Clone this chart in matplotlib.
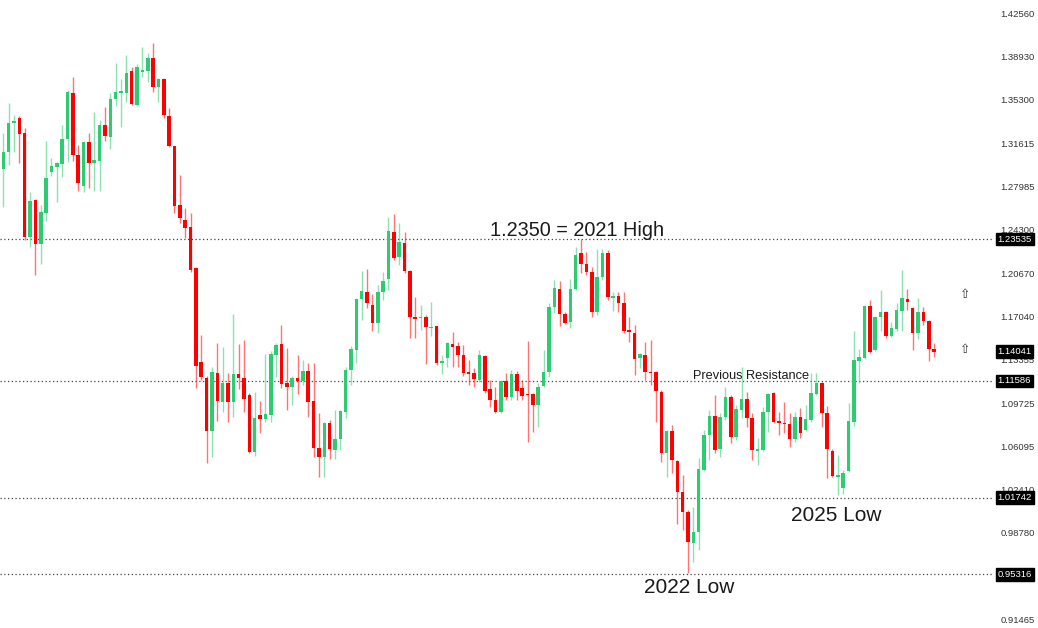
# Monthly EUR/USD candles with key levels

import numpy as np
import pandas as pd
import matplotlib
matplotlib.use("Agg")
import matplotlib.pyplot as plt
from matplotlib.transforms import blended_transform_factory

months = pd.date_range("2012-01-01", periods=175, freq="MS")

open_ = [
    1.2940, 1.3088, 1.3332, 1.3372, 1.3246, 1.2370, 1.2682, 1.2311, 1.2572, 1.2917,
    1.2959, 1.2985, 1.3195, 1.3582, 1.3060, 1.2799, 1.3170, 1.2993, 1.3010, 1.3313,
    1.3212, 1.3532, 1.3582, 1.3582, 1.3768, 1.3481, 1.3759, 1.3768, 1.3877, 1.3633,
    1.3700, 1.3389, 1.3136, 1.2639, 1.2513, 1.2454, 1.2109, 1.1318, 1.1183, 1.0737,
    1.1225, 1.0981, 1.1141, 1.0981, 1.1216, 1.1183, 1.1040, 1.0560, 1.0871, 1.0838,
    1.0871, 1.1376, 1.1469, 1.1141, 1.1107, 1.1183, 1.1158, 1.1242, 1.0989, 1.0593,
    1.0518, 1.0804, 1.0577, 1.0669, 1.0896, 1.1250, 1.1419, 1.1848, 1.1907, 1.1797,
    1.1646, 1.1907, 1.2016, 1.2412, 1.2202, 1.2319, 1.2084, 1.1696, 1.1688, 1.1696,
    1.1604, 1.1621, 1.1309, 1.1351, 1.1469, 1.1452, 1.1376, 1.1233, 1.1225, 1.1166,
    1.1368, 1.1090, 1.0998, 1.0896, 1.1158, 1.1023, 1.1216, 1.1099, 1.1048, 1.1048,
    1.0955, 1.1115, 1.1233, 1.1781, 1.1932, 1.1722, 1.1654, 1.1932, 1.2235, 1.2143,
    1.2075, 1.1738, 1.2033, 1.2235, 1.1856, 1.1873, 1.1814, 1.1587, 1.1562, 1.1351,
    1.1376, 1.1233, 1.1233, 1.1065, 1.0551, 1.0737, 1.0484, 1.0223, 1.0055, 0.9793,
    0.9886, 1.0408, 1.0703, 1.0863, 1.0585, 1.0854, 1.1023, 1.0686, 1.0913, 1.1006,
    1.0846, 1.0568, 1.0577, 1.0896, 1.1056, 1.0821, 1.0804, 1.0795, 1.0669, 1.0854,
    1.0745, 1.0829, 1.1048, 1.1141, 1.0888, 1.0568, 1.0349, 1.0256, 1.0400, 1.0812,
    1.1326, 1.1351, 1.1789, 1.1419, 1.1696, 1.1738, 1.1536, 1.1595, 1.1747, 1.1848,
    1.1772, 1.1562, 1.1738, 1.1663, 1.1427,
]
high = [
    1.3246, 1.3498, 1.3397, 1.3389, 1.3288, 1.2749, 1.2690, 1.2639, 1.3178, 1.3035,
    1.3002, 1.3313, 1.3608, 1.3717, 1.3145, 1.3180, 1.3246, 1.3422, 1.3355, 1.3465,
    1.3582, 1.3835, 1.3700, 1.3902, 1.3801, 1.3827, 1.3970, 1.3919, 1.4003, 1.3709,
    1.3709, 1.3456, 1.3140, 1.2892, 1.2614, 1.2572, 1.2115, 1.1545, 1.1200, 1.1275,
    1.1477, 1.1444, 1.1225, 1.1722, 1.1469, 1.1503, 1.1056, 1.1065, 1.0989, 1.1385,
    1.1410, 1.1477, 1.1629, 1.1435, 1.1200, 1.1376, 1.1334, 1.1309, 1.1309, 1.0888,
    1.0810, 1.0829, 1.0913, 1.0913, 1.1275, 1.1452, 1.1855, 1.2084, 1.2101, 1.1890,
    1.1966, 1.2075, 1.2538, 1.2564, 1.2488, 1.2412, 1.2092, 1.1865, 1.1797, 1.1713,
    1.1823, 1.1625, 1.1376, 1.1486, 1.1570, 1.1486, 1.1461, 1.1334, 1.1267, 1.1419,
    1.1376, 1.1166, 1.1107, 1.1166, 1.1225, 1.1250, 1.1242, 1.1166, 1.1494, 1.1056,
    1.1141, 1.1419, 1.1814, 1.2008, 1.2000, 1.1740, 1.2016, 1.2286, 1.2353, 1.2244,
    1.2117, 1.2269, 1.2269, 1.2261, 1.1907, 1.1907, 1.1907, 1.1696, 1.1629, 1.1393,
    1.1486, 1.1503, 1.1240, 1.1082, 1.0745, 1.0787, 1.0492, 1.0366, 1.0071, 1.0097,
    1.0509, 1.0745, 1.0913, 1.1040, 1.0888, 1.1107, 1.1040, 1.0955, 1.1275, 1.1065,
    1.0888, 1.0678, 1.0939, 1.1056, 1.1065, 1.0896, 1.0981, 1.0888, 1.0896, 1.0930,
    1.0955, 1.1225, 1.1225, 1.1149, 1.0947, 1.0585, 1.0534, 1.0408, 1.0972, 1.1578,
    1.1427, 1.1797, 1.1840, 1.1705, 1.1924, 1.1745, 1.1654, 1.1814, 1.2092, 1.1932,
    1.1781, 1.1856, 1.1781, 1.1671, 1.1477,
]
low = [
    1.2623, 1.2976, 1.3088, 1.2993, 1.2345, 1.2286, 1.2050, 1.2143, 1.2505, 1.2884,
    1.2665, 1.2875, 1.3002, 1.3010, 1.2757, 1.2749, 1.2783, 1.2757, 1.2757, 1.3178,
    1.3111, 1.3473, 1.3296, 1.3507, 1.3481, 1.3475, 1.3717, 1.3675, 1.3591, 1.3507,
    1.3372, 1.3128, 1.2572, 1.2488, 1.2362, 1.2075, 1.1099, 1.1166, 1.0467, 1.0518,
    1.0821, 1.0896, 1.0812, 1.0854, 1.1090, 1.0896, 1.0551, 1.0526, 1.0720, 1.0812,
    1.0812, 1.1191, 1.1099, 1.0913, 1.0955, 1.1048, 1.1124, 1.0854, 1.0518, 1.0349,
    1.0349, 1.0501, 1.0501, 1.0577, 1.0846, 1.1124, 1.1309, 1.1671, 1.1772, 1.1578,
    1.1562, 1.1840, 1.1924, 1.2176, 1.2134, 1.2067, 1.1520, 1.1520, 1.1587, 1.1301,
    1.1536, 1.1292, 1.1216, 1.1275, 1.1275, 1.1275, 1.1200, 1.1124, 1.1107, 1.1149,
    1.1056, 1.0939, 1.0888, 1.0888, 1.0998, 1.0998, 1.0998, 1.0998, 1.0644, 1.0728,
    1.0770, 1.1107, 1.1191, 1.1730, 1.1621, 1.1640, 1.1604, 1.1924, 1.2067, 1.2050,
    1.1696, 1.1713, 1.2008, 1.1840, 1.1747, 1.1738, 1.1562, 1.1486, 1.1208, 1.1267,
    1.1166, 1.1124, 1.0812, 1.0475, 1.0349, 1.0383, 0.9953, 0.9903, 0.9541, 0.9633,
    0.9734, 1.0400, 1.0492, 1.0551, 1.0518, 1.0829, 1.0635, 1.0661, 1.0846, 1.0770,
    1.0492, 1.0450, 1.0568, 1.0728, 1.0804, 1.0703, 1.0720, 1.0602, 1.0644, 1.0678,
    1.0737, 1.0812, 1.1040, 1.0770, 1.0341, 1.0349, 1.0198, 1.0206, 1.0391, 1.0779,
    1.1141, 1.1343, 1.1393, 1.1410, 1.1578, 1.1520, 1.1528, 1.1578, 1.1578, 1.1755,
    1.1419, 1.1511, 1.1629, 1.1326, 1.1360,
]
close = [
    1.3088, 1.3332, 1.3349, 1.3237, 1.2370, 1.2673, 1.2311, 1.2580, 1.2867, 1.2968,
    1.2993, 1.3195, 1.3591, 1.3060, 1.2825, 1.3170, 1.2993, 1.3018, 1.3313, 1.3220,
    1.3532, 1.3591, 1.3599, 1.3751, 1.3490, 1.3801, 1.3776, 1.3877, 1.3633, 1.3700,
    1.3397, 1.3136, 1.2631, 1.2530, 1.2446, 1.2092, 1.1284, 1.1191, 1.0737, 1.1233,
    1.0989, 1.1141, 1.0981, 1.1216, 1.1183, 1.1006, 1.0560, 1.0846, 1.0838, 1.0880,
    1.1385, 1.1461, 1.1132, 1.1107, 1.1183, 1.1158, 1.1242, 1.0981, 1.0593, 1.0518,
    1.0804, 1.0585, 1.0669, 1.0905, 1.1250, 1.1427, 1.1848, 1.1915, 1.1814, 1.1646,
    1.1907, 1.2000, 1.2421, 1.2193, 1.2328, 1.2084, 1.1696, 1.1680, 1.1696, 1.1612,
    1.1612, 1.1309, 1.1326, 1.1477, 1.1444, 1.1376, 1.1225, 1.1216, 1.1174, 1.1376,
    1.1073, 1.0998, 1.0896, 1.1158, 1.1023, 1.1216, 1.1073, 1.1031, 1.1040, 1.0955,
    1.1107, 1.1233, 1.1781, 1.1941, 1.1722, 1.1646, 1.1932, 1.2218, 1.2143, 1.2075,
    1.1738, 1.2033, 1.2235, 1.1865, 1.1873, 1.1814, 1.1578, 1.1570, 1.1343, 1.1385,
    1.1233, 1.1225, 1.1073, 1.0551, 1.0737, 1.0492, 1.0223, 1.0055, 0.9802, 0.9886,
    1.0417, 1.0703, 1.0863, 1.0577, 1.0854, 1.1023, 1.0686, 1.0922, 1.1006, 1.0846,
    1.0577, 1.0585, 1.0896, 1.1048, 1.0812, 1.0804, 1.0795, 1.0669, 1.0854, 1.0720,
    1.0838, 1.1056, 1.1141, 1.0888, 1.0585, 1.0358, 1.0366, 1.0383, 1.0821, 1.1334,
    1.1360, 1.1789, 1.1402, 1.1696, 1.1738, 1.1536, 1.1604, 1.1755, 1.1856, 1.1823,
    1.1562, 1.1738, 1.1663, 1.1427, 1.14041,
]

tick_values = [1.42560, 1.38930, 1.35300, 1.31615, 1.27985, 1.24300, 1.20670,
               1.17040, 1.13355, 1.09725, 1.06095, 1.02410, 0.98780, 0.91465]
levels = [1.23535, 1.11586, 1.01742, 0.95316]
last_price = 1.14041

GREEN = "#2ecc71"
RED = "#ff0000"
FONT = "Liberation Sans"

df = pd.DataFrame({"open": open_, "high": high, "low": low, "close": close}, index=months)
x = np.arange(len(df))
up = df["close"].values >= df["open"].values
colors = np.where(up, GREEN, RED)

fig = plt.figure(figsize=(10.38, 6.28), dpi=100)
ax = fig.add_axes([0, 0, 994 / 1038, 1])

# wicks
ax.vlines(x, df["low"], df["high"], colors=colors, linewidth=1.0, alpha=0.55, zorder=2)
# bodies
body_bottom = np.minimum(df["open"], df["close"])
body_height = np.maximum(np.abs(df["close"] - df["open"]), 0.0012)
ax.bar(x, body_height, bottom=body_bottom, width=0.66, color=colors, linewidth=0, zorder=3)

for lv in levels:
    ax.axhline(lv, color="#444444", linestyle=(0, (1, 2)), linewidth=0.9, zorder=1)

ax.set_xlim(-0.62, 185.2)
ax.set_ylim(0.9078, 1.4366)
for s in ax.spines.values():
    s.set_visible(False)
ax.set_xticks([])
ax.yaxis.tick_right()
ax.set_yticks(tick_values)
ax.set_yticklabels([f"{v:.5f}" for v in tick_values], fontsize=6.8, family=FONT, color="#333333")
ax.tick_params(axis="y", length=0, pad=4.5)

trans = blended_transform_factory(ax.transAxes, ax.transData)
for lv in levels + [last_price]:
    ax.text(1.0035, lv, f"{lv:.5f}", transform=trans, ha="left", va="center",
            fontsize=6.8, family=FONT, color="white", zorder=6, clip_on=False,
            bbox=dict(boxstyle="square,pad=0.2", fc="black", ec="black"))

# annotations
ax.text(90.9, 1.2378, "1.2350 = 2021 High", fontsize=14.3, family=FONT, color="#1a1a1a",
        ha="left", va="baseline", zorder=5)
ax.text(128.9, 1.1172, "Previous Resistance", fontsize=9.2, family=FONT, color="#1a1a1a",
        ha="left", va="baseline", zorder=5)
ax.text(119.7, 0.9370, "2022 Low", fontsize=15, family=FONT, color="#1a1a1a",
        ha="left", va="baseline", zorder=5)
ax.text(147.2, 0.9982, "2025 Low", fontsize=15, family=FONT, color="#1a1a1a",
        ha="left", va="baseline", zorder=5)
for ay in [1.1890, 1.1427]:
    ax.text(179.8, ay, "\u21e7", fontsize=9, family="DejaVu Sans", color="#333333",
            ha="center", va="center", zorder=5)

fig.savefig("out.png", dpi=100, facecolor="white")
